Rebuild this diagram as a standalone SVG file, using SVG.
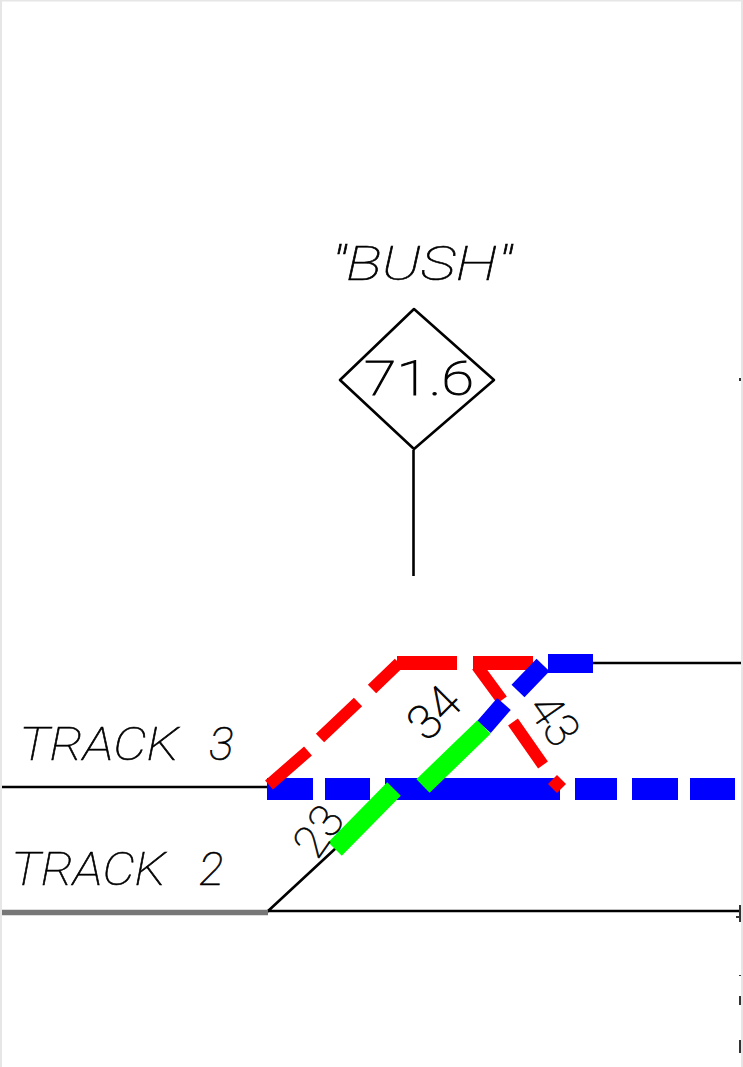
<svg xmlns="http://www.w3.org/2000/svg" width="743" height="1067" viewBox="0 0 743 1067">
<style>
.t{font-family:"Roboto","Liberation Sans",sans-serif;font-weight:100;fill:#000;stroke:#000;stroke-width:.6;}
.i{font-style:italic;}
.k{fill:none;stroke:#000;stroke-width:2.6;}
.b{fill:#00f;}
.r{stroke:#f00;stroke-width:12;fill:none;}
.g{stroke:#0f0;stroke-width:19;fill:none;}
.u{stroke:#00f;stroke-width:18;fill:none;}
</style>
<rect width="743" height="1067" fill="#fff"/>
<path d="M1 0V1067M742 0V1067M0 .5H743" stroke="#e6e6e6" stroke-width="2" fill="none"/>
<g id="connectors">
<path class="k" d="M2 787H270M590 663H741M267 911H741M267 912L336 848"/>
<path d="M2 912.500H268" stroke="#777" stroke-width="5.500"/>
<path class="k" d="M413.500 450V576"/>
<path class="b" d="M267 778h46v22h-46zM325 778h45v22h-45zM385 778h175v22H385zM575 778h42v22h-42zM632 778h46v22h-46zM690 778h45v22h-45zM548 654h45v19h-45z"/>
<path class="r" d="M269 785L308 751M320 738L358 702M372 689L399 663"/>
<path class="r" style="stroke-width:14" d="M397 663H457M473 663H533"/>
<path class="r" style="stroke-width:12" d="M477 666L502 700M513 722L543 765"/>
<path d="M557 775L566 784L557 793L548 784Z" fill="#f00"/>
<path class="u" d="M484 727L504 704M518 691L543 665"/>
<path class="g" d="M335 849L394 789M423 786L484 727"/>
</g>
<g id="signal-71-6">
<path class="k" d="M414 309L494 380L414 449L340 380Z" stroke-linejoin="round"/>
<text class="t" x="364" y="395" font-size="49" textLength="110" lengthAdjust="spacingAndGlyphs" style="stroke-width:1">71.6</text>
</g>
<g id="label-bush"><text class="t i" x="331" y="280" font-size="49" textLength="181" lengthAdjust="spacingAndGlyphs">"BUSH"</text></g>
<g id="label-track-3"><text class="t i" font-size="46" y="760"><tspan x="19" textLength="160" lengthAdjust="spacingAndGlyphs">TRACK</tspan> <tspan x="209">3</tspan></text></g>
<g id="label-track-2"><text class="t i" font-size="46" y="885"><tspan x="11" textLength="155" lengthAdjust="spacingAndGlyphs">TRACK</tspan> <tspan x="199">2</tspan></text></g>
<g id="label-23"><text class="t" transform="translate(317,861) rotate(-55)" font-size="46">23</text></g>
<g id="label-34"><text class="t" transform="translate(427,743) rotate(-45)" font-size="48" style="stroke-width:.9">34</text></g>
<g id="label-43"><text class="t" transform="translate(526,708) rotate(55)" font-size="47">43</text></g>
<path d="M740 905V922M736 917h5M740 975v1M740 996v9M740 1040v13M740 378v3" stroke="#333" stroke-width="2" fill="none"/>
</svg>
